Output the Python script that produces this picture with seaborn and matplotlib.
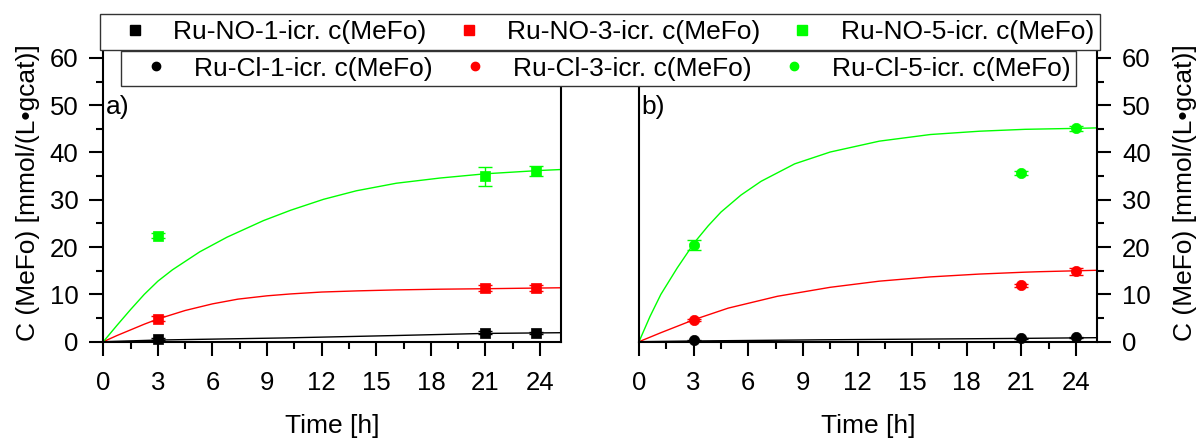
import matplotlib
matplotlib.use("Agg")
import matplotlib.pyplot as plt
import seaborn as sns
import pandas as pd
from matplotlib.lines import Line2D
from matplotlib.ticker import MultipleLocator

# ---------------- data ----------------
labels_no = ["Ru-NO-1-icr. c(MeFo)", "Ru-NO-3-icr. c(MeFo)", "Ru-NO-5-icr. c(MeFo)"]
labels_cl = ["Ru-Cl-1-icr. c(MeFo)", "Ru-Cl-3-icr. c(MeFo)", "Ru-Cl-5-icr. c(MeFo)"]
colors = ["#000000", "#FF0000", "#00FF00"]

t_no = [3, 21, 23.8]
no1 = [0.6, 1.9, 1.8]
no1_err = [0.2, 0.3, 0.2]
no3 = [4.9, 11.3, 11.4]
no3_err = [0.6, 0.6, 0.6]
no5 = [22.4, 35.0, 36.1]
no5_err = [0.5, 2.0, 1.0]

t_cl = [3, 21, 24]
cl1 = [0.3, 0.7, 0.9]
cl1_err = [0.15, 0.15, 0.15]
cl3 = [4.6, 11.9, 14.9]
cl3_err = [0.3, 0.4, 0.7]
cl5 = [20.4, 35.6, 45.1]
cl5_err = [1.0, 0.4, 0.5]

# fitted curves
fit_no1_t = [0, 3, 10, 16, 21, 25.15]
fit_no1_y = [0, 0.35, 0.8, 1.3, 1.75, 1.9]
fit_no3_t = [0, 0.75, 1.5, 2.25, 3, 4.5, 6, 7.4, 9, 10.3, 12, 14, 16.1, 18.5, 21, 23, 25.15]
fit_no3_y = [0, 1.3, 2.5, 3.7, 4.8, 6.6, 8.0, 9.0, 9.7, 10.1, 10.5, 10.75, 10.95, 11.1, 11.2, 11.3, 11.4]
fit_no5_t = [0, 0.75, 1.5, 2.25, 3, 3.8, 5.3, 6.8, 8.8, 10.3, 12.1, 13.9, 16.1, 18.5, 21, 24, 25.15]
fit_no5_y = [0, 3.45, 6.8, 10.0, 12.8, 15.2, 19.0, 22.1, 25.6, 27.8, 30.1, 31.9, 33.5, 34.6, 35.5, 36.2, 36.4]

fit_cl1_t = [0, 3, 10, 21, 25.15]
fit_cl1_y = [0, 0.15, 0.4, 0.7, 0.85]
fit_cl3_t = [0, 1.2, 3.05, 4.9, 7.6, 10.5, 13.2, 16.0, 18.7, 21.2, 22.0, 25.15]
fit_cl3_y = [0, 1.9, 4.7, 7.1, 9.6, 11.5, 12.8, 13.7, 14.3, 14.7, 14.8, 15.1]
fit_cl5_t = [0, 0.6, 1.2, 2.1, 3.05, 3.8, 4.5, 5.6, 6.7, 8.55, 10.5, 13.2, 16.0, 18.7, 21.2, 24, 25.15]
fit_cl5_y = [0, 5.3, 10.0, 15.6, 21.0, 24.5, 27.4, 31.0, 33.9, 37.6, 40.1, 42.4, 43.8, 44.5, 44.9, 45.1, 45.2]

# ---------------- style ----------------
sns.set_theme(style="ticks")
plt.rcParams["font.family"] = ["Liberation Sans", "DejaVu Sans"]
plt.rcParams["axes.linewidth"] = 1.5
plt.rcParams["text.color"] = "black"
plt.rcParams["axes.labelcolor"] = "black"
plt.rcParams["xtick.color"] = "black"
plt.rcParams["ytick.color"] = "black"

fig = plt.figure(figsize=(12.01, 4.40), dpi=100)
W, H = 1201, 440
ax1 = fig.add_axes([103.3 / W, 1 - 341.7 / H, (561 - 103.3) / W, 298 / H])
ax2 = fig.add_axes([639 / W, 1 - 341.7 / H, (1097 - 639) / W, 298 / H])

tick_fs = 18.5
label_fs = 19


def draw_panel(ax, t, ys, errs, fits, marker, msize):
    for (ft, fy), c in zip(fits, colors):
        df = pd.DataFrame({"t": ft, "y": fy})
        sns.lineplot(data=df, x="t", y="y", ax=ax, color=c, lw=1.0,
                     estimator=None, sort=False, zorder=2)
    for y, e, c in zip(ys, errs, colors):
        ax.errorbar(t, y, yerr=e, fmt="none", ecolor=c, elinewidth=1.0,
                    capsize=5, capthick=1.0, zorder=3, clip_on=False)
        df = pd.DataFrame({"t": t, "y": y})
        sns.scatterplot(data=df, x="t", y="y", ax=ax, color=c, marker=marker,
                        s=msize, edgecolor=c, linewidth=0.5, zorder=4,
                        clip_on=False, legend=False)
    ax.set_xlim(0, 25.15)
    ax.set_ylim(0, 63)
    ax.xaxis.set_major_locator(MultipleLocator(3))
    ax.xaxis.set_minor_locator(MultipleLocator(1.5))
    ax.yaxis.set_major_locator(MultipleLocator(10))
    ax.yaxis.set_minor_locator(MultipleLocator(5))
    ax.set_yticks([0, 10, 20, 30, 40, 50, 60])
    ax.spines["top"].set_visible(False)
    for s in ["left", "right", "bottom"]:
        ax.spines[s].set_visible(True)
        ax.spines[s].set_color("black")
        ax.spines[s].set_linewidth(1.5)
    ax.tick_params(axis="both", which="major", direction="out", length=10,
                   width=1.5, labelsize=tick_fs, colors="black", pad=8)
    ax.tick_params(axis="x", which="major", pad=11)
    ax.tick_params(axis="both", which="minor", direction="out", length=5,
                   width=1.5, colors="black")
    ax.set_xlabel("Time [h]", fontsize=label_fs, labelpad=14, color="black")
    ax.grid(False)


draw_panel(ax1, t_no, [no1, no3, no5], [no1_err, no3_err, no5_err],
           [(fit_no1_t, fit_no1_y), (fit_no3_t, fit_no3_y), (fit_no5_t, fit_no5_y)],
           "s", 45)
draw_panel(ax2, t_cl, [cl1, cl3, cl5], [cl1_err, cl3_err, cl5_err],
           [(fit_cl1_t, fit_cl1_y), (fit_cl3_t, fit_cl3_y), (fit_cl5_t, fit_cl5_y)],
           "o", 55)

ylabel = "C (MeFo) [mmol/(L\u2022gcat)]"
ax1.set_ylabel(ylabel, fontsize=label_fs, labelpad=7, color="black")
ax1.tick_params(axis="y", which="both", right=False, left=True)
ax2.yaxis.tick_right()
ax2.yaxis.set_label_position("right")
ax2.tick_params(axis="y", which="both", left=False, right=True)
ax2.set_ylabel(ylabel, fontsize=label_fs, labelpad=16, color="black")

ax1.text(0.12, 49.6, "a)", fontsize=label_fs, va="center", ha="left")
ax2.text(0.12, 49.6, "b)", fontsize=label_fs, va="center", ha="left")

# ---------------- legends ----------------
leg_fs = 19
h_no = [Line2D([], [], ls="none", marker="s", ms=6.7, color=c, mec=c) for c in colors]
h_cl = [Line2D([], [], ls="none", marker="o", ms=6.0, color=c, mec=c) for c in colors]
common = dict(ncol=3, fontsize=leg_fs, frameon=True, fancybox=False, framealpha=1,
              edgecolor="#333333", borderpad=0.22, handlelength=2.2,
              handletextpad=0.35, columnspacing=0.5, borderaxespad=0,
              loc="upper left", bbox_transform=fig.transFigure)
leg1 = fig.legend(h_no, labels_no, bbox_to_anchor=(100 / W, 1 - 14 / H), **common)
leg2 = fig.legend(h_cl, labels_cl, bbox_to_anchor=(120.7 / W, 1 - 50.7 / H), **common)
for lg in (leg1, leg2):
    lg.get_frame().set_linewidth(1.0)

fig.savefig("out.png", dpi=100, facecolor="white")
